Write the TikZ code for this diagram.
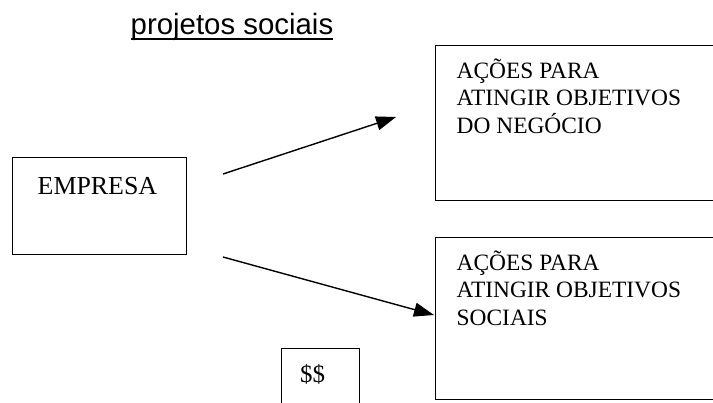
\documentclass[tikz,border=0pt]{standalone}
\usepackage{fontspec}
\setmainfont{Liberation Serif}
\newfontfamily\arialfont{Liberation Sans}
\usetikzlibrary{arrows.meta}
\begin{document}
\begin{tikzpicture}[x=1bp,y=-1bp,
  boxshape/.style={draw, line width=1.3bp, rectangle, inner sep=0pt, anchor=north west},
  boxtxt/.style={anchor=base west, inner sep=0pt, font=\fontsize{23.5}{28}\selectfont},
  arr/.style={line width=1.4bp, -{Triangle[length=20bp,width=14bp]}}]
\useasboundingbox (0,0) rectangle (713,402);
\clip (0,0) rectangle (713,402);
\fill[white] (0,0) rectangle (713,402);
% title
\node[anchor=base west, inner sep=0pt, font=\arialfont\fontsize{29.5}{34}\selectfont] (title) at (130.5,34) {projetos sociais};
\draw[line width=1.5bp] ([yshift=-5bp]title.base west) -- ([yshift=-5bp]title.base east);
% boxes
\node[boxshape, minimum width=174bp, minimum height=97bp] (emp) at (12,157) {};
\node[anchor=base west, inner sep=0pt, font=\fontsize{26}{30}\selectfont] (empt) at (37.5,194) {EMPRESA};
\node[boxshape, minimum width=330bp, minimum height=155bp] (neg) at (434.5,45) {};
\node[boxtxt] (neg1) at (456.5,78) {AÇÕES PARA};
\node[boxtxt] (neg2) at (456.5,105.5) {ATINGIR OBJETIVOS};
\node[boxtxt] (neg3) at (456.5,133) {DO NEGÓCIO};
\node[boxshape, minimum width=330bp, minimum height=162bp] (soc) at (435,237) {};
\node[boxtxt] (soc1) at (456.5,270) {AÇÕES PARA};
\node[boxtxt] (soc2) at (456.5,297.5) {ATINGIR OBJETIVOS};
\node[boxtxt] (soc3) at (456.5,325) {SOCIAIS};
\node[boxshape, minimum width=78bp, minimum height=80bp] (money) at (281,348) {};
\node[anchor=base west, inner sep=0pt, font=\fontsize{25}{29}\selectfont] (moneyt) at (300,382) {\$\$};
% arrows
\coordinate (s1) at (223,174);
\coordinate (e1) at (396,117);
\coordinate (s2) at (223,257);
\coordinate (e2) at (434,315);
\draw[arr] (s1) -- (e1);
\draw[arr] (s2) -- (e2);
\end{tikzpicture}
\end{document}
